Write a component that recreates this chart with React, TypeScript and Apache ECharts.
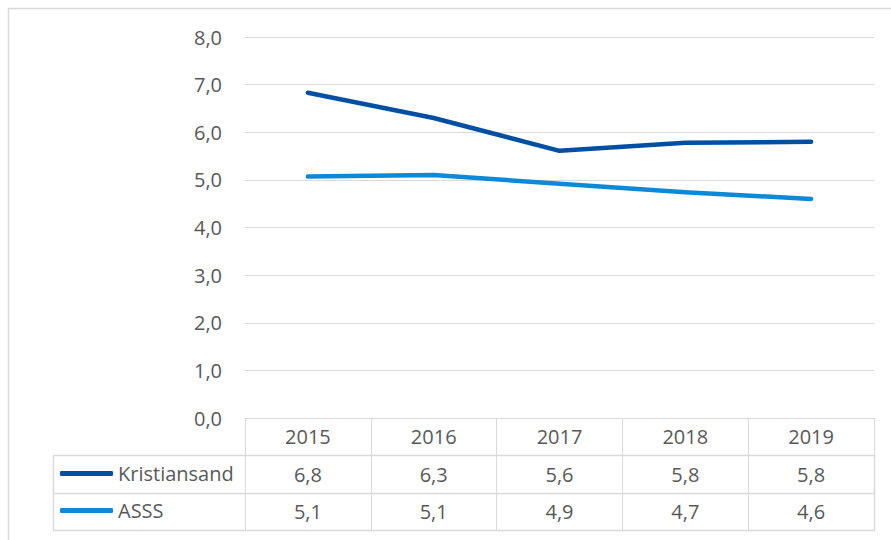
import React, { useEffect, useRef } from "react";
import * as echarts from "echarts";

const years = ["2015", "2016", "2017", "2018", "2019"];
const kristiansand = [6.83, 6.3, 5.61, 5.78, 5.8];
const asss = [5.07, 5.1, 4.92, 4.74, 4.6];
const seriesNames = ["Kristiansand", "ASSS"];
const yTicks = { min: 0, max: 8, interval: 1 };

const fmt = (v: number) => v.toFixed(1).replace(".", ",");
const TEXT = "#595959";
const GRID = "#d9d9d9";
const FONT = "Open Sans";

export default function App() {
  const ref = useRef<HTMLDivElement>(null);
  useEffect(() => {
    if (!ref.current) return;
    const chart = echarts.init(ref.current, undefined, { renderer: "svg" });
    const labelBase = { color: TEXT, fontSize: 20, fontFamily: FONT, verticalAlign: "middle" as const };
    chart.setOption({
      animation: false,
      backgroundColor: "#ffffff",
      color: ["#004fa3", "#0a8ad8"],
      grid: { left: 245, right: 17, top: 37, bottom: 122 },
      legend: {
        orient: "vertical",
        left: 60,
        top: 460,
        padding: 0,
        itemGap: 10,
        itemWidth: 53,
        itemHeight: 5,
        icon: "roundRect",
        data: seriesNames,
        textStyle: { color: TEXT, fontSize: 20, fontFamily: FONT, lineHeight: 27 },
      },
      xAxis: [
        {
          type: "category",
          data: years,
          boundaryGap: true,
          axisLine: { show: true, lineStyle: { color: GRID, width: 1 } },
          axisTick: { show: true, length: 112, alignWithLabel: false, lineStyle: { color: GRID, width: 1 } },
          axisLabel: { ...labelBase, margin: 18, interval: 0 },
          splitLine: { show: false },
        },
        {
          type: "category",
          data: kristiansand.map(fmt),
          position: "bottom",
          axisLine: { show: false },
          axisTick: { show: false },
          axisLabel: { ...labelBase, margin: 56, interval: 0 },
        },
        {
          type: "category",
          data: asss.map(fmt),
          position: "bottom",
          axisLine: { show: false },
          axisTick: { show: false },
          axisLabel: { ...labelBase, margin: 93, interval: 0 },
        },
      ],
      yAxis: {
        type: "value",
        min: yTicks.min,
        max: yTicks.max,
        interval: yTicks.interval,
        axisLine: { show: false },
        axisTick: { show: false },
        axisLabel: { color: TEXT, fontSize: 20, fontFamily: FONT, margin: 23, formatter: (v: number) => fmt(v) },
        splitLine: { show: true, lineStyle: { color: GRID, width: 1 } },
      },
      graphic: [
        {
          type: "rect",
          shape: { x: 8.5, y: 8.5, width: 1000, height: 1000 },
          style: { fill: "none", stroke: GRID, lineWidth: 1.5 },
          silent: true,
        },
        {
          type: "rect",
          shape: { x: 53.5, y: 455.5, width: 821, height: 75 },
          style: { fill: "none", stroke: GRID, lineWidth: 1.5 },
          silent: true,
        },
        {
          type: "line",
          shape: { x1: 53.5, y1: 493.5, x2: 874.5, y2: 493.5 },
          style: { stroke: GRID, lineWidth: 1.5 },
          silent: true,
        },
      ],
      series: [
        {
          name: seriesNames[0],
          type: "line",
          data: kristiansand,
          symbol: "none",
          smooth: false,
          lineStyle: { width: 4.5, cap: "round", join: "round" },
        },
        {
          name: seriesNames[1],
          type: "line",
          data: asss,
          symbol: "none",
          smooth: false,
          lineStyle: { width: 4.5, cap: "round", join: "round" },
        },
      ],
    });
    return () => chart.dispose();
  }, []);
  return (
    <div
      ref={ref}
      style={{ position: "fixed", left: 0, top: 0, width: 891, height: 540 }}
    />
  );
}
